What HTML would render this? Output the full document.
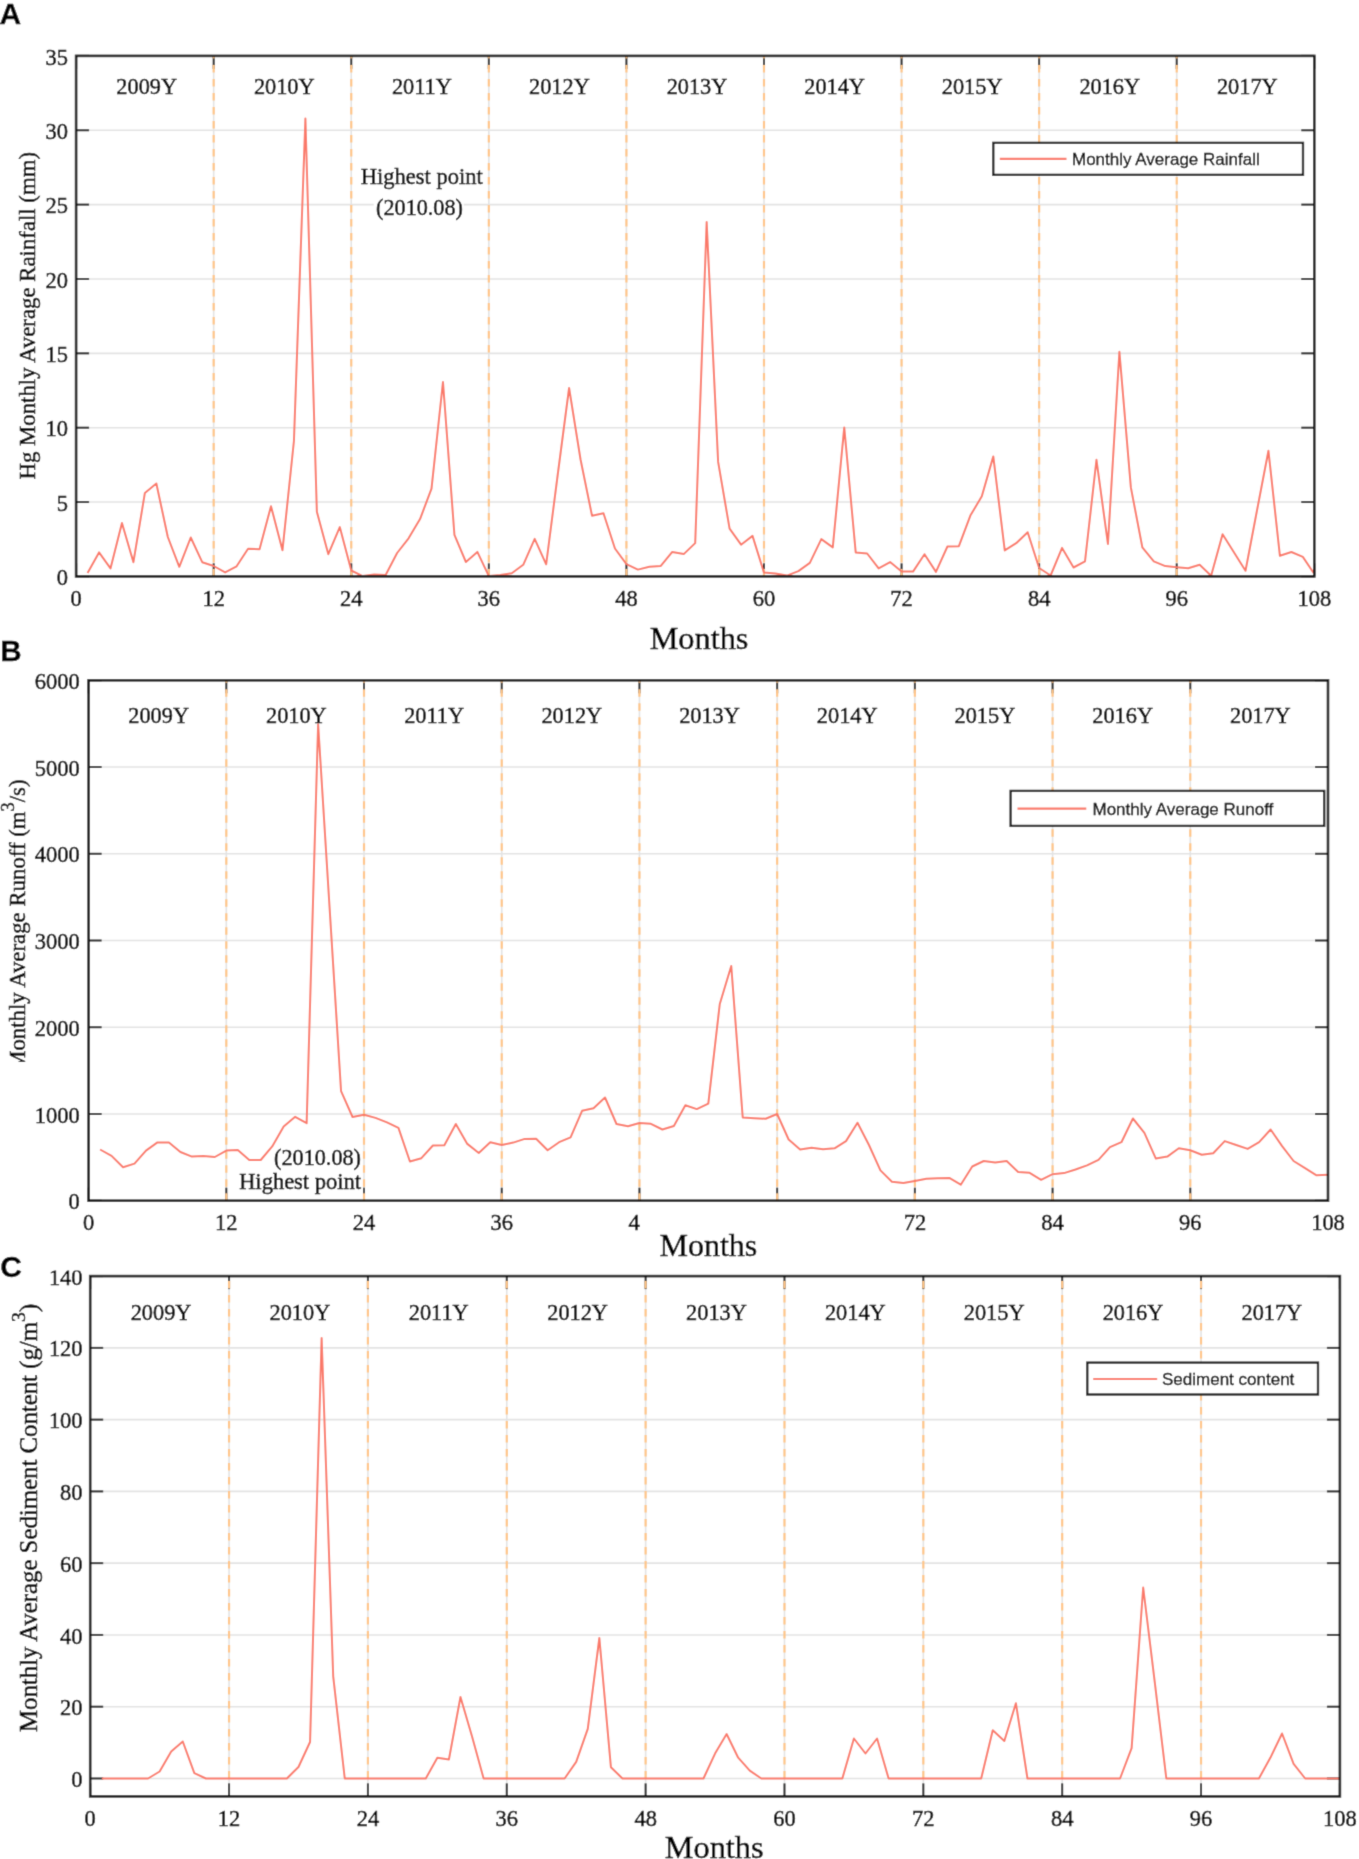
<!DOCTYPE html>
<html><head><meta charset="utf-8"><style>
html,body{margin:0;padding:0;background:#fff;}
body{width:1359px;height:1859px;overflow:hidden;}
svg{display:block;}

.s{font-family:"Liberation Serif",serif;fill:#000;stroke:#000;stroke-width:0.5px;}
.a{font-family:"Liberation Sans",sans-serif;fill:#000;stroke:#000;stroke-width:0.3px;}
</style></head><body>
<div id="wrap"><svg width="1359" height="1859" viewBox="0 0 1359 1859">
<defs><filter id="bl" x="0" y="0" width="100%" height="100%" filterUnits="userSpaceOnUse"><feConvolveMatrix order="3" kernelMatrix="0.03667 0.19150 0.03667 0.19150 1.00000 0.19150 0.03667 0.19150 0.03667" edgeMode="duplicate" preserveAlpha="true"/></filter></defs>
<g filter="url(#bl)">
<rect width="1359" height="1859" fill="#fff"/>
<line x1="76.1" y1="502.04" x2="1314.3" y2="502.04" stroke="#E3E3E3" stroke-width="1.6"/>
<line x1="76.1" y1="427.69" x2="1314.3" y2="427.69" stroke="#E3E3E3" stroke-width="1.6"/>
<line x1="76.1" y1="353.33" x2="1314.3" y2="353.33" stroke="#E3E3E3" stroke-width="1.6"/>
<line x1="76.1" y1="278.97" x2="1314.3" y2="278.97" stroke="#E3E3E3" stroke-width="1.6"/>
<line x1="76.1" y1="204.61" x2="1314.3" y2="204.61" stroke="#E3E3E3" stroke-width="1.6"/>
<line x1="76.1" y1="130.26" x2="1314.3" y2="130.26" stroke="#E3E3E3" stroke-width="1.6"/>
<line x1="213.68" y1="55.9" x2="213.68" y2="576.4" stroke="#E3E3E3" stroke-width="1.6"/>
<line x1="351.26" y1="55.9" x2="351.26" y2="576.4" stroke="#E3E3E3" stroke-width="1.6"/>
<line x1="488.83" y1="55.9" x2="488.83" y2="576.4" stroke="#E3E3E3" stroke-width="1.6"/>
<line x1="626.41" y1="55.9" x2="626.41" y2="576.4" stroke="#E3E3E3" stroke-width="1.6"/>
<line x1="763.99" y1="55.9" x2="763.99" y2="576.4" stroke="#E3E3E3" stroke-width="1.6"/>
<line x1="901.57" y1="55.9" x2="901.57" y2="576.4" stroke="#E3E3E3" stroke-width="1.6"/>
<line x1="1039.14" y1="55.9" x2="1039.14" y2="576.4" stroke="#E3E3E3" stroke-width="1.6"/>
<line x1="1176.72" y1="55.9" x2="1176.72" y2="576.4" stroke="#E3E3E3" stroke-width="1.6"/>
<line x1="76.1" y1="576.4" x2="89.1" y2="576.4" stroke="#1a1a1a" stroke-width="2"/>
<line x1="1314.3" y1="576.4" x2="1301.3" y2="576.4" stroke="#1a1a1a" stroke-width="2"/>
<line x1="76.1" y1="502.04" x2="89.1" y2="502.04" stroke="#1a1a1a" stroke-width="2"/>
<line x1="1314.3" y1="502.04" x2="1301.3" y2="502.04" stroke="#1a1a1a" stroke-width="2"/>
<line x1="76.1" y1="427.69" x2="89.1" y2="427.69" stroke="#1a1a1a" stroke-width="2"/>
<line x1="1314.3" y1="427.69" x2="1301.3" y2="427.69" stroke="#1a1a1a" stroke-width="2"/>
<line x1="76.1" y1="353.33" x2="89.1" y2="353.33" stroke="#1a1a1a" stroke-width="2"/>
<line x1="1314.3" y1="353.33" x2="1301.3" y2="353.33" stroke="#1a1a1a" stroke-width="2"/>
<line x1="76.1" y1="278.97" x2="89.1" y2="278.97" stroke="#1a1a1a" stroke-width="2"/>
<line x1="1314.3" y1="278.97" x2="1301.3" y2="278.97" stroke="#1a1a1a" stroke-width="2"/>
<line x1="76.1" y1="204.61" x2="89.1" y2="204.61" stroke="#1a1a1a" stroke-width="2"/>
<line x1="1314.3" y1="204.61" x2="1301.3" y2="204.61" stroke="#1a1a1a" stroke-width="2"/>
<line x1="76.1" y1="130.26" x2="89.1" y2="130.26" stroke="#1a1a1a" stroke-width="2"/>
<line x1="1314.3" y1="130.26" x2="1301.3" y2="130.26" stroke="#1a1a1a" stroke-width="2"/>
<line x1="76.1" y1="55.9" x2="89.1" y2="55.9" stroke="#1a1a1a" stroke-width="2"/>
<line x1="1314.3" y1="55.9" x2="1301.3" y2="55.9" stroke="#1a1a1a" stroke-width="2"/>
<line x1="76.1" y1="55.9" x2="76.1" y2="68.9" stroke="#1a1a1a" stroke-width="2"/>
<line x1="76.1" y1="576.4" x2="76.1" y2="563.4" stroke="#1a1a1a" stroke-width="2"/>
<line x1="213.68" y1="55.9" x2="213.68" y2="68.9" stroke="#1a1a1a" stroke-width="2"/>
<line x1="213.68" y1="576.4" x2="213.68" y2="563.4" stroke="#1a1a1a" stroke-width="2"/>
<line x1="351.26" y1="55.9" x2="351.26" y2="68.9" stroke="#1a1a1a" stroke-width="2"/>
<line x1="351.26" y1="576.4" x2="351.26" y2="563.4" stroke="#1a1a1a" stroke-width="2"/>
<line x1="488.83" y1="55.9" x2="488.83" y2="68.9" stroke="#1a1a1a" stroke-width="2"/>
<line x1="488.83" y1="576.4" x2="488.83" y2="563.4" stroke="#1a1a1a" stroke-width="2"/>
<line x1="626.41" y1="55.9" x2="626.41" y2="68.9" stroke="#1a1a1a" stroke-width="2"/>
<line x1="626.41" y1="576.4" x2="626.41" y2="563.4" stroke="#1a1a1a" stroke-width="2"/>
<line x1="763.99" y1="55.9" x2="763.99" y2="68.9" stroke="#1a1a1a" stroke-width="2"/>
<line x1="763.99" y1="576.4" x2="763.99" y2="563.4" stroke="#1a1a1a" stroke-width="2"/>
<line x1="901.57" y1="55.9" x2="901.57" y2="68.9" stroke="#1a1a1a" stroke-width="2"/>
<line x1="901.57" y1="576.4" x2="901.57" y2="563.4" stroke="#1a1a1a" stroke-width="2"/>
<line x1="1039.14" y1="55.9" x2="1039.14" y2="68.9" stroke="#1a1a1a" stroke-width="2"/>
<line x1="1039.14" y1="576.4" x2="1039.14" y2="563.4" stroke="#1a1a1a" stroke-width="2"/>
<line x1="1176.72" y1="55.9" x2="1176.72" y2="68.9" stroke="#1a1a1a" stroke-width="2"/>
<line x1="1176.72" y1="576.4" x2="1176.72" y2="563.4" stroke="#1a1a1a" stroke-width="2"/>
<line x1="1314.3" y1="55.9" x2="1314.3" y2="68.9" stroke="#1a1a1a" stroke-width="2"/>
<line x1="1314.3" y1="576.4" x2="1314.3" y2="563.4" stroke="#1a1a1a" stroke-width="2"/>
<line x1="213.68" y1="576.4" x2="213.68" y2="55.9" stroke="#FFC585" stroke-width="2.2" stroke-dasharray="7.4 6.6"/>
<line x1="351.26" y1="576.4" x2="351.26" y2="55.9" stroke="#FFC585" stroke-width="2.2" stroke-dasharray="7.4 6.6"/>
<line x1="488.83" y1="576.4" x2="488.83" y2="55.9" stroke="#FFC585" stroke-width="2.2" stroke-dasharray="7.4 6.6"/>
<line x1="626.41" y1="576.4" x2="626.41" y2="55.9" stroke="#FFC585" stroke-width="2.2" stroke-dasharray="7.4 6.6"/>
<line x1="763.99" y1="576.4" x2="763.99" y2="55.9" stroke="#FFC585" stroke-width="2.2" stroke-dasharray="7.4 6.6"/>
<line x1="901.57" y1="576.4" x2="901.57" y2="55.9" stroke="#FFC585" stroke-width="2.2" stroke-dasharray="7.4 6.6"/>
<line x1="1039.14" y1="576.4" x2="1039.14" y2="55.9" stroke="#FFC585" stroke-width="2.2" stroke-dasharray="7.4 6.6"/>
<line x1="1176.72" y1="576.4" x2="1176.72" y2="55.9" stroke="#FFC585" stroke-width="2.2" stroke-dasharray="7.4 6.6"/>
<polyline points="87.56,573 99.03,552.4 110.49,568.4 121.96,523 133.42,562.2 144.89,492.9 156.35,483.5 167.82,537 179.28,566.8 190.75,537.5 202.21,562.2 213.68,566 225.14,572.4 236.61,566.3 248.07,548.7 259.54,549.2 271,506.2 282.47,550.3 293.93,441 305.4,118.5 316.86,511.7 328.33,554.2 339.79,527.1 351.26,570.5 362.72,576.1 374.19,574.5 385.65,575 397.11,553 408.58,538.3 420.04,519.1 431.51,488.6 442.97,382 454.44,534.9 465.9,562 477.37,551.9 488.83,576.1 500.3,575 511.76,573.3 523.23,564.8 534.69,538.9 546.16,564.3 557.62,475.5 569.09,388 580.55,459.5 592.02,515.7 603.48,513.2 614.95,548.5 626.41,564.2 637.88,569.6 649.34,566.8 660.81,565.9 672.27,551.9 683.74,554.1 695.2,543.1 706.66,222 718.13,461.9 729.59,528.7 741.06,544.7 752.52,535.9 763.99,572.6 775.45,573.6 786.92,575.6 798.38,571.1 809.85,562.9 821.31,539.1 832.78,547.4 844.24,427.4 855.71,552.4 867.17,553.5 878.64,568.4 890.1,562.1 901.57,571.5 913.03,571.6 924.5,554.2 935.96,571.9 947.43,546.5 958.89,546.2 970.36,515.6 981.82,496.3 993.29,456.4 1004.75,550.4 1016.21,543.2 1027.68,532.2 1039.14,568 1050.61,575.5 1062.07,547.9 1073.54,567.5 1085,561.4 1096.47,459.8 1107.93,543.9 1119.4,351.8 1130.86,487.4 1142.33,547.3 1153.79,561.4 1165.26,566.1 1176.72,567.2 1188.19,568.2 1199.65,564.7 1211.12,575.7 1222.58,534.3 1234.05,552.5 1245.51,570.7 1256.98,510.5 1268.44,450.8 1279.91,555.8 1291.37,552 1302.84,556.9 1314.3,574" fill="none" stroke="#FA7868" stroke-width="2" stroke-linejoin="round"/>
<rect x="76.1" y="55.9" width="1238.2" height="520.5" fill="none" stroke="#1a1a1a" stroke-width="2.6"/>
<text transform="translate(67.9,585) scale(1.0,1.05)" text-anchor="end" class="s" font-size="22.5">0</text>
<text transform="translate(67.9,510.64) scale(1.0,1.05)" text-anchor="end" class="s" font-size="22.5">5</text>
<text transform="translate(67.9,436.29) scale(1.0,1.05)" text-anchor="end" class="s" font-size="22.5">10</text>
<text transform="translate(67.9,361.93) scale(1.0,1.05)" text-anchor="end" class="s" font-size="22.5">15</text>
<text transform="translate(67.9,287.57) scale(1.0,1.05)" text-anchor="end" class="s" font-size="22.5">20</text>
<text transform="translate(67.9,213.21) scale(1.0,1.05)" text-anchor="end" class="s" font-size="22.5">25</text>
<text transform="translate(67.9,138.86) scale(1.0,1.05)" text-anchor="end" class="s" font-size="22.5">30</text>
<text transform="translate(67.9,64.5) scale(1.0,1.05)" text-anchor="end" class="s" font-size="22.5">35</text>
<text transform="translate(76.1,605.7) scale(1.0,1.05)" text-anchor="middle" class="s" font-size="22.5">0</text>
<text transform="translate(213.68,605.7) scale(1.0,1.05)" text-anchor="middle" class="s" font-size="22.5">12</text>
<text transform="translate(351.26,605.7) scale(1.0,1.05)" text-anchor="middle" class="s" font-size="22.5">24</text>
<text transform="translate(488.83,605.7) scale(1.0,1.05)" text-anchor="middle" class="s" font-size="22.5">36</text>
<text transform="translate(626.41,605.7) scale(1.0,1.05)" text-anchor="middle" class="s" font-size="22.5">48</text>
<text transform="translate(763.99,605.7) scale(1.0,1.05)" text-anchor="middle" class="s" font-size="22.5">60</text>
<text transform="translate(901.57,605.7) scale(1.0,1.05)" text-anchor="middle" class="s" font-size="22.5">72</text>
<text transform="translate(1039.14,605.7) scale(1.0,1.05)" text-anchor="middle" class="s" font-size="22.5">84</text>
<text transform="translate(1176.72,605.7) scale(1.0,1.05)" text-anchor="middle" class="s" font-size="22.5">96</text>
<text transform="translate(1314.3,605.7) scale(1.0,1.05)" text-anchor="middle" class="s" font-size="22.5">108</text>
<text transform="translate(146.69,94)" text-anchor="middle" class="s" font-size="22.3">2009Y</text>
<text transform="translate(284.27,94)" text-anchor="middle" class="s" font-size="22.3">2010Y</text>
<text transform="translate(421.84,94)" text-anchor="middle" class="s" font-size="22.3">2011Y</text>
<text transform="translate(559.42,94)" text-anchor="middle" class="s" font-size="22.3">2012Y</text>
<text transform="translate(697,94)" text-anchor="middle" class="s" font-size="22.3">2013Y</text>
<text transform="translate(834.58,94)" text-anchor="middle" class="s" font-size="22.3">2014Y</text>
<text transform="translate(972.16,94)" text-anchor="middle" class="s" font-size="22.3">2015Y</text>
<text transform="translate(1109.73,94)" text-anchor="middle" class="s" font-size="22.3">2016Y</text>
<text transform="translate(1247.31,94)" text-anchor="middle" class="s" font-size="22.3">2017Y</text>
<line x1="88.6" y1="1113.97" x2="1328" y2="1113.97" stroke="#E3E3E3" stroke-width="1.6"/>
<line x1="88.6" y1="1027.23" x2="1328" y2="1027.23" stroke="#E3E3E3" stroke-width="1.6"/>
<line x1="88.6" y1="940.5" x2="1328" y2="940.5" stroke="#E3E3E3" stroke-width="1.6"/>
<line x1="88.6" y1="853.77" x2="1328" y2="853.77" stroke="#E3E3E3" stroke-width="1.6"/>
<line x1="88.6" y1="767.03" x2="1328" y2="767.03" stroke="#E3E3E3" stroke-width="1.6"/>
<line x1="226.31" y1="680.3" x2="226.31" y2="1200.7" stroke="#E3E3E3" stroke-width="1.6"/>
<line x1="364.02" y1="680.3" x2="364.02" y2="1200.7" stroke="#E3E3E3" stroke-width="1.6"/>
<line x1="501.73" y1="680.3" x2="501.73" y2="1200.7" stroke="#E3E3E3" stroke-width="1.6"/>
<line x1="639.44" y1="680.3" x2="639.44" y2="1200.7" stroke="#E3E3E3" stroke-width="1.6"/>
<line x1="777.16" y1="680.3" x2="777.16" y2="1200.7" stroke="#E3E3E3" stroke-width="1.6"/>
<line x1="914.87" y1="680.3" x2="914.87" y2="1200.7" stroke="#E3E3E3" stroke-width="1.6"/>
<line x1="1052.58" y1="680.3" x2="1052.58" y2="1200.7" stroke="#E3E3E3" stroke-width="1.6"/>
<line x1="1190.29" y1="680.3" x2="1190.29" y2="1200.7" stroke="#E3E3E3" stroke-width="1.6"/>
<line x1="88.6" y1="1200.7" x2="101.6" y2="1200.7" stroke="#1a1a1a" stroke-width="2"/>
<line x1="1328" y1="1200.7" x2="1315" y2="1200.7" stroke="#1a1a1a" stroke-width="2"/>
<line x1="88.6" y1="1113.97" x2="101.6" y2="1113.97" stroke="#1a1a1a" stroke-width="2"/>
<line x1="1328" y1="1113.97" x2="1315" y2="1113.97" stroke="#1a1a1a" stroke-width="2"/>
<line x1="88.6" y1="1027.23" x2="101.6" y2="1027.23" stroke="#1a1a1a" stroke-width="2"/>
<line x1="1328" y1="1027.23" x2="1315" y2="1027.23" stroke="#1a1a1a" stroke-width="2"/>
<line x1="88.6" y1="940.5" x2="101.6" y2="940.5" stroke="#1a1a1a" stroke-width="2"/>
<line x1="1328" y1="940.5" x2="1315" y2="940.5" stroke="#1a1a1a" stroke-width="2"/>
<line x1="88.6" y1="853.77" x2="101.6" y2="853.77" stroke="#1a1a1a" stroke-width="2"/>
<line x1="1328" y1="853.77" x2="1315" y2="853.77" stroke="#1a1a1a" stroke-width="2"/>
<line x1="88.6" y1="767.03" x2="101.6" y2="767.03" stroke="#1a1a1a" stroke-width="2"/>
<line x1="1328" y1="767.03" x2="1315" y2="767.03" stroke="#1a1a1a" stroke-width="2"/>
<line x1="88.6" y1="680.3" x2="101.6" y2="680.3" stroke="#1a1a1a" stroke-width="2"/>
<line x1="1328" y1="680.3" x2="1315" y2="680.3" stroke="#1a1a1a" stroke-width="2"/>
<line x1="88.6" y1="680.3" x2="88.6" y2="693.3" stroke="#1a1a1a" stroke-width="2"/>
<line x1="88.6" y1="1200.7" x2="88.6" y2="1187.7" stroke="#1a1a1a" stroke-width="2"/>
<line x1="226.31" y1="680.3" x2="226.31" y2="693.3" stroke="#1a1a1a" stroke-width="2"/>
<line x1="226.31" y1="1200.7" x2="226.31" y2="1187.7" stroke="#1a1a1a" stroke-width="2"/>
<line x1="364.02" y1="680.3" x2="364.02" y2="693.3" stroke="#1a1a1a" stroke-width="2"/>
<line x1="364.02" y1="1200.7" x2="364.02" y2="1187.7" stroke="#1a1a1a" stroke-width="2"/>
<line x1="501.73" y1="680.3" x2="501.73" y2="693.3" stroke="#1a1a1a" stroke-width="2"/>
<line x1="501.73" y1="1200.7" x2="501.73" y2="1187.7" stroke="#1a1a1a" stroke-width="2"/>
<line x1="639.44" y1="680.3" x2="639.44" y2="693.3" stroke="#1a1a1a" stroke-width="2"/>
<line x1="639.44" y1="1200.7" x2="639.44" y2="1187.7" stroke="#1a1a1a" stroke-width="2"/>
<line x1="777.16" y1="680.3" x2="777.16" y2="693.3" stroke="#1a1a1a" stroke-width="2"/>
<line x1="777.16" y1="1200.7" x2="777.16" y2="1187.7" stroke="#1a1a1a" stroke-width="2"/>
<line x1="914.87" y1="680.3" x2="914.87" y2="693.3" stroke="#1a1a1a" stroke-width="2"/>
<line x1="914.87" y1="1200.7" x2="914.87" y2="1187.7" stroke="#1a1a1a" stroke-width="2"/>
<line x1="1052.58" y1="680.3" x2="1052.58" y2="693.3" stroke="#1a1a1a" stroke-width="2"/>
<line x1="1052.58" y1="1200.7" x2="1052.58" y2="1187.7" stroke="#1a1a1a" stroke-width="2"/>
<line x1="1190.29" y1="680.3" x2="1190.29" y2="693.3" stroke="#1a1a1a" stroke-width="2"/>
<line x1="1190.29" y1="1200.7" x2="1190.29" y2="1187.7" stroke="#1a1a1a" stroke-width="2"/>
<line x1="1328" y1="680.3" x2="1328" y2="693.3" stroke="#1a1a1a" stroke-width="2"/>
<line x1="1328" y1="1200.7" x2="1328" y2="1187.7" stroke="#1a1a1a" stroke-width="2"/>
<line x1="226.31" y1="1200.7" x2="226.31" y2="680.3" stroke="#FFC585" stroke-width="2.2" stroke-dasharray="7.4 6.6"/>
<line x1="364.02" y1="1200.7" x2="364.02" y2="680.3" stroke="#FFC585" stroke-width="2.2" stroke-dasharray="7.4 6.6"/>
<line x1="501.73" y1="1200.7" x2="501.73" y2="680.3" stroke="#FFC585" stroke-width="2.2" stroke-dasharray="7.4 6.6"/>
<line x1="639.44" y1="1200.7" x2="639.44" y2="680.3" stroke="#FFC585" stroke-width="2.2" stroke-dasharray="7.4 6.6"/>
<line x1="777.16" y1="1200.7" x2="777.16" y2="680.3" stroke="#FFC585" stroke-width="2.2" stroke-dasharray="7.4 6.6"/>
<line x1="914.87" y1="1200.7" x2="914.87" y2="680.3" stroke="#FFC585" stroke-width="2.2" stroke-dasharray="7.4 6.6"/>
<line x1="1052.58" y1="1200.7" x2="1052.58" y2="680.3" stroke="#FFC585" stroke-width="2.2" stroke-dasharray="7.4 6.6"/>
<line x1="1190.29" y1="1200.7" x2="1190.29" y2="680.3" stroke="#FFC585" stroke-width="2.2" stroke-dasharray="7.4 6.6"/>
<polyline points="100.08,1149.5 111.55,1155.9 123.03,1167.2 134.5,1163.6 145.98,1150.6 157.46,1142.4 168.93,1142.4 180.41,1152 191.88,1156.6 203.36,1155.9 214.84,1157 226.31,1150.6 237.79,1150 249.26,1160 260.74,1160 272.21,1146.4 283.69,1126.5 295.17,1116.8 306.64,1123.2 318.12,724.2 329.59,907.7 341.07,1091.2 352.55,1117 364.02,1114.8 375.5,1117.9 386.97,1122.4 398.45,1127.9 409.93,1161.5 421.4,1158.2 432.88,1145.5 444.35,1145.3 455.83,1124 467.31,1143.9 478.78,1153 490.26,1142.2 501.73,1145 513.21,1142.6 524.69,1138.9 536.16,1138.7 547.64,1150.3 559.11,1142.2 570.59,1137.3 582.06,1110.8 593.54,1108.3 605.02,1097.5 616.49,1124 627.97,1126.2 639.44,1123 650.92,1123.8 662.4,1129.5 673.87,1126 685.35,1105.3 696.82,1109.1 708.3,1103.6 719.78,1004 731.25,966 742.73,1117.5 754.2,1118.2 765.68,1118.7 777.16,1114 788.63,1139.5 800.11,1149.4 811.58,1147.7 823.06,1149.2 834.54,1148.3 846.01,1141.1 857.49,1122.7 868.96,1145 880.44,1170.4 891.91,1181.7 903.39,1183.1 914.87,1180.9 926.34,1178.7 937.82,1178.3 949.29,1177.9 960.77,1184.7 972.25,1166.5 983.72,1161 995.2,1162.6 1006.67,1161 1018.15,1172 1029.63,1172.8 1041.1,1179.8 1052.58,1174.2 1064.05,1173.1 1075.53,1169.5 1087.01,1165.4 1098.48,1159.9 1109.96,1147.2 1121.43,1142.2 1132.91,1118.5 1144.39,1132.8 1155.86,1158.6 1167.34,1156.6 1178.81,1148.3 1190.29,1150.3 1201.76,1154.7 1213.24,1153.3 1224.72,1141.1 1236.19,1145 1247.67,1148.9 1259.14,1142.2 1270.62,1129.5 1282.1,1146.1 1293.57,1161 1305.05,1168.2 1316.52,1175.3 1328,1174.8" fill="none" stroke="#FA7868" stroke-width="2" stroke-linejoin="round"/>
<rect x="88.6" y="680.3" width="1239.4" height="520.4" fill="none" stroke="#1a1a1a" stroke-width="2.6"/>
<text transform="translate(79.7,1209.3) scale(1.0,1.05)" text-anchor="end" class="s" font-size="22.5">0</text>
<text transform="translate(79.7,1122.57) scale(1.0,1.05)" text-anchor="end" class="s" font-size="22.5">1000</text>
<text transform="translate(79.7,1035.83) scale(1.0,1.05)" text-anchor="end" class="s" font-size="22.5">2000</text>
<text transform="translate(79.7,949.1) scale(1.0,1.05)" text-anchor="end" class="s" font-size="22.5">3000</text>
<text transform="translate(79.7,862.37) scale(1.0,1.05)" text-anchor="end" class="s" font-size="22.5">4000</text>
<text transform="translate(79.7,775.63) scale(1.0,1.05)" text-anchor="end" class="s" font-size="22.5">5000</text>
<text transform="translate(79.7,688.9) scale(1.0,1.05)" text-anchor="end" class="s" font-size="22.5">6000</text>
<text transform="translate(88.6,1229.8) scale(1.0,1.05)" text-anchor="middle" class="s" font-size="22.5">0</text>
<text transform="translate(226.31,1229.8) scale(1.0,1.05)" text-anchor="middle" class="s" font-size="22.5">12</text>
<text transform="translate(364.02,1229.8) scale(1.0,1.05)" text-anchor="middle" class="s" font-size="22.5">24</text>
<text transform="translate(501.73,1229.8) scale(1.0,1.05)" text-anchor="middle" class="s" font-size="22.5">36</text>
<text transform="translate(914.87,1229.8) scale(1.0,1.05)" text-anchor="middle" class="s" font-size="22.5">72</text>
<text transform="translate(1052.58,1229.8) scale(1.0,1.05)" text-anchor="middle" class="s" font-size="22.5">84</text>
<text transform="translate(1190.29,1229.8) scale(1.0,1.05)" text-anchor="middle" class="s" font-size="22.5">96</text>
<text transform="translate(1328,1229.8) scale(1.0,1.05)" text-anchor="middle" class="s" font-size="22.5">108</text>
<text transform="translate(158.66,722.8)" text-anchor="middle" class="s" font-size="22.3">2009Y</text>
<text transform="translate(296.37,722.8)" text-anchor="middle" class="s" font-size="22.3">2010Y</text>
<text transform="translate(434.08,722.8)" text-anchor="middle" class="s" font-size="22.3">2011Y</text>
<text transform="translate(571.79,722.8)" text-anchor="middle" class="s" font-size="22.3">2012Y</text>
<text transform="translate(709.5,722.8)" text-anchor="middle" class="s" font-size="22.3">2013Y</text>
<text transform="translate(847.21,722.8)" text-anchor="middle" class="s" font-size="22.3">2014Y</text>
<text transform="translate(984.92,722.8)" text-anchor="middle" class="s" font-size="22.3">2015Y</text>
<text transform="translate(1122.63,722.8)" text-anchor="middle" class="s" font-size="22.3">2016Y</text>
<text transform="translate(1260.34,722.8)" text-anchor="middle" class="s" font-size="22.3">2017Y</text>
<line x1="90.2" y1="1778.46" x2="1339.9" y2="1778.46" stroke="#E3E3E3" stroke-width="1.6"/>
<line x1="90.2" y1="1706.69" x2="1339.9" y2="1706.69" stroke="#E3E3E3" stroke-width="1.6"/>
<line x1="90.2" y1="1634.93" x2="1339.9" y2="1634.93" stroke="#E3E3E3" stroke-width="1.6"/>
<line x1="90.2" y1="1563.16" x2="1339.9" y2="1563.16" stroke="#E3E3E3" stroke-width="1.6"/>
<line x1="90.2" y1="1491.4" x2="1339.9" y2="1491.4" stroke="#E3E3E3" stroke-width="1.6"/>
<line x1="90.2" y1="1419.63" x2="1339.9" y2="1419.63" stroke="#E3E3E3" stroke-width="1.6"/>
<line x1="90.2" y1="1347.87" x2="1339.9" y2="1347.87" stroke="#E3E3E3" stroke-width="1.6"/>
<line x1="229.06" y1="1276.1" x2="229.06" y2="1796.4" stroke="#E3E3E3" stroke-width="1.6"/>
<line x1="367.91" y1="1276.1" x2="367.91" y2="1796.4" stroke="#E3E3E3" stroke-width="1.6"/>
<line x1="506.77" y1="1276.1" x2="506.77" y2="1796.4" stroke="#E3E3E3" stroke-width="1.6"/>
<line x1="645.62" y1="1276.1" x2="645.62" y2="1796.4" stroke="#E3E3E3" stroke-width="1.6"/>
<line x1="784.48" y1="1276.1" x2="784.48" y2="1796.4" stroke="#E3E3E3" stroke-width="1.6"/>
<line x1="923.33" y1="1276.1" x2="923.33" y2="1796.4" stroke="#E3E3E3" stroke-width="1.6"/>
<line x1="1062.19" y1="1276.1" x2="1062.19" y2="1796.4" stroke="#E3E3E3" stroke-width="1.6"/>
<line x1="1201.04" y1="1276.1" x2="1201.04" y2="1796.4" stroke="#E3E3E3" stroke-width="1.6"/>
<line x1="90.2" y1="1778.46" x2="103.2" y2="1778.46" stroke="#1a1a1a" stroke-width="2"/>
<line x1="1339.9" y1="1778.46" x2="1326.9" y2="1778.46" stroke="#1a1a1a" stroke-width="2"/>
<line x1="90.2" y1="1706.69" x2="103.2" y2="1706.69" stroke="#1a1a1a" stroke-width="2"/>
<line x1="1339.9" y1="1706.69" x2="1326.9" y2="1706.69" stroke="#1a1a1a" stroke-width="2"/>
<line x1="90.2" y1="1634.93" x2="103.2" y2="1634.93" stroke="#1a1a1a" stroke-width="2"/>
<line x1="1339.9" y1="1634.93" x2="1326.9" y2="1634.93" stroke="#1a1a1a" stroke-width="2"/>
<line x1="90.2" y1="1563.16" x2="103.2" y2="1563.16" stroke="#1a1a1a" stroke-width="2"/>
<line x1="1339.9" y1="1563.16" x2="1326.9" y2="1563.16" stroke="#1a1a1a" stroke-width="2"/>
<line x1="90.2" y1="1491.4" x2="103.2" y2="1491.4" stroke="#1a1a1a" stroke-width="2"/>
<line x1="1339.9" y1="1491.4" x2="1326.9" y2="1491.4" stroke="#1a1a1a" stroke-width="2"/>
<line x1="90.2" y1="1419.63" x2="103.2" y2="1419.63" stroke="#1a1a1a" stroke-width="2"/>
<line x1="1339.9" y1="1419.63" x2="1326.9" y2="1419.63" stroke="#1a1a1a" stroke-width="2"/>
<line x1="90.2" y1="1347.87" x2="103.2" y2="1347.87" stroke="#1a1a1a" stroke-width="2"/>
<line x1="1339.9" y1="1347.87" x2="1326.9" y2="1347.87" stroke="#1a1a1a" stroke-width="2"/>
<line x1="90.2" y1="1276.1" x2="103.2" y2="1276.1" stroke="#1a1a1a" stroke-width="2"/>
<line x1="1339.9" y1="1276.1" x2="1326.9" y2="1276.1" stroke="#1a1a1a" stroke-width="2"/>
<line x1="90.2" y1="1276.1" x2="90.2" y2="1289.1" stroke="#1a1a1a" stroke-width="2"/>
<line x1="90.2" y1="1796.4" x2="90.2" y2="1783.4" stroke="#1a1a1a" stroke-width="2"/>
<line x1="229.06" y1="1276.1" x2="229.06" y2="1289.1" stroke="#1a1a1a" stroke-width="2"/>
<line x1="229.06" y1="1796.4" x2="229.06" y2="1783.4" stroke="#1a1a1a" stroke-width="2"/>
<line x1="367.91" y1="1276.1" x2="367.91" y2="1289.1" stroke="#1a1a1a" stroke-width="2"/>
<line x1="367.91" y1="1796.4" x2="367.91" y2="1783.4" stroke="#1a1a1a" stroke-width="2"/>
<line x1="506.77" y1="1276.1" x2="506.77" y2="1289.1" stroke="#1a1a1a" stroke-width="2"/>
<line x1="506.77" y1="1796.4" x2="506.77" y2="1783.4" stroke="#1a1a1a" stroke-width="2"/>
<line x1="645.62" y1="1276.1" x2="645.62" y2="1289.1" stroke="#1a1a1a" stroke-width="2"/>
<line x1="645.62" y1="1796.4" x2="645.62" y2="1783.4" stroke="#1a1a1a" stroke-width="2"/>
<line x1="784.48" y1="1276.1" x2="784.48" y2="1289.1" stroke="#1a1a1a" stroke-width="2"/>
<line x1="784.48" y1="1796.4" x2="784.48" y2="1783.4" stroke="#1a1a1a" stroke-width="2"/>
<line x1="923.33" y1="1276.1" x2="923.33" y2="1289.1" stroke="#1a1a1a" stroke-width="2"/>
<line x1="923.33" y1="1796.4" x2="923.33" y2="1783.4" stroke="#1a1a1a" stroke-width="2"/>
<line x1="1062.19" y1="1276.1" x2="1062.19" y2="1289.1" stroke="#1a1a1a" stroke-width="2"/>
<line x1="1062.19" y1="1796.4" x2="1062.19" y2="1783.4" stroke="#1a1a1a" stroke-width="2"/>
<line x1="1201.04" y1="1276.1" x2="1201.04" y2="1289.1" stroke="#1a1a1a" stroke-width="2"/>
<line x1="1201.04" y1="1796.4" x2="1201.04" y2="1783.4" stroke="#1a1a1a" stroke-width="2"/>
<line x1="1339.9" y1="1276.1" x2="1339.9" y2="1289.1" stroke="#1a1a1a" stroke-width="2"/>
<line x1="1339.9" y1="1796.4" x2="1339.9" y2="1783.4" stroke="#1a1a1a" stroke-width="2"/>
<line x1="229.06" y1="1778.46" x2="229.06" y2="1276.1" stroke="#FFC585" stroke-width="2.2" stroke-dasharray="7.4 6.6"/>
<line x1="367.91" y1="1778.46" x2="367.91" y2="1276.1" stroke="#FFC585" stroke-width="2.2" stroke-dasharray="7.4 6.6"/>
<line x1="506.77" y1="1778.46" x2="506.77" y2="1276.1" stroke="#FFC585" stroke-width="2.2" stroke-dasharray="7.4 6.6"/>
<line x1="645.62" y1="1778.46" x2="645.62" y2="1276.1" stroke="#FFC585" stroke-width="2.2" stroke-dasharray="7.4 6.6"/>
<line x1="784.48" y1="1778.46" x2="784.48" y2="1276.1" stroke="#FFC585" stroke-width="2.2" stroke-dasharray="7.4 6.6"/>
<line x1="923.33" y1="1778.46" x2="923.33" y2="1276.1" stroke="#FFC585" stroke-width="2.2" stroke-dasharray="7.4 6.6"/>
<line x1="1062.19" y1="1778.46" x2="1062.19" y2="1276.1" stroke="#FFC585" stroke-width="2.2" stroke-dasharray="7.4 6.6"/>
<line x1="1201.04" y1="1778.46" x2="1201.04" y2="1276.1" stroke="#FFC585" stroke-width="2.2" stroke-dasharray="7.4 6.6"/>
<polyline points="101.77,1778.5 113.34,1778.5 124.91,1778.5 136.49,1778.5 148.06,1778.5 159.63,1771.5 171.2,1751.6 182.77,1741.5 194.34,1773.2 205.91,1778.5 217.48,1778.5 229.06,1778.5 240.63,1778.5 252.2,1778.5 263.77,1778.5 275.34,1778.5 286.91,1778.5 298.48,1767 310.05,1742 321.63,1338 333.2,1676.3 344.77,1778.5 356.34,1778.5 367.91,1778.5 379.48,1778.5 391.05,1778.5 402.62,1778.5 414.2,1778.5 425.77,1778.5 437.34,1757.7 448.91,1759.5 460.48,1697 472.05,1736.5 483.62,1778.5 495.2,1778.5 506.77,1778.5 518.34,1778.5 529.91,1778.5 541.48,1778.5 553.05,1778.5 564.62,1778.5 576.19,1761.9 587.77,1728.9 599.34,1638 610.91,1767.2 622.48,1778.5 634.05,1778.5 645.62,1778.5 657.19,1778.5 668.76,1778.5 680.34,1778.5 691.91,1778.5 703.48,1778.5 715.05,1753.6 726.62,1734 738.19,1757.7 749.76,1770.7 761.34,1778.5 772.91,1778.5 784.48,1778.5 796.05,1778.5 807.62,1778.5 819.19,1778.5 830.76,1778.5 842.33,1778.5 853.91,1738.5 865.48,1753.5 877.05,1738.5 888.62,1778.5 900.19,1778.5 911.76,1778.5 923.33,1778.5 934.9,1778.5 946.48,1778.5 958.05,1778.5 969.62,1778.5 981.19,1778.5 992.76,1730.2 1004.33,1741 1015.9,1703.2 1027.47,1778.5 1039.05,1778.5 1050.62,1778.5 1062.19,1778.5 1073.76,1778.5 1085.33,1778.5 1096.9,1778.5 1108.47,1778.5 1120.05,1778.5 1131.62,1748.1 1143.19,1587.5 1154.76,1682.2 1166.33,1778.5 1177.9,1778.5 1189.47,1778.5 1201.04,1778.5 1212.62,1778.5 1224.19,1778.5 1235.76,1778.5 1247.33,1778.5 1258.9,1778.5 1270.47,1757.6 1282.04,1733.5 1293.61,1763.8 1305.19,1778.5 1316.76,1778.5 1328.33,1778.5 1339.9,1778.5" fill="none" stroke="#FA7868" stroke-width="2" stroke-linejoin="round"/>
<rect x="90.2" y="1276.1" width="1249.7" height="520.3" fill="none" stroke="#1a1a1a" stroke-width="2.6"/>
<text transform="translate(82.6,1787.06) scale(1.0,1.05)" text-anchor="end" class="s" font-size="22.5">0</text>
<text transform="translate(82.6,1715.29) scale(1.0,1.05)" text-anchor="end" class="s" font-size="22.5">20</text>
<text transform="translate(82.6,1643.53) scale(1.0,1.05)" text-anchor="end" class="s" font-size="22.5">40</text>
<text transform="translate(82.6,1571.76) scale(1.0,1.05)" text-anchor="end" class="s" font-size="22.5">60</text>
<text transform="translate(82.6,1500) scale(1.0,1.05)" text-anchor="end" class="s" font-size="22.5">80</text>
<text transform="translate(82.6,1428.23) scale(1.0,1.05)" text-anchor="end" class="s" font-size="22.5">100</text>
<text transform="translate(82.6,1356.47) scale(1.0,1.05)" text-anchor="end" class="s" font-size="22.5">120</text>
<text transform="translate(82.6,1284.7) scale(1.0,1.05)" text-anchor="end" class="s" font-size="22.5">140</text>
<text transform="translate(90.2,1825.5) scale(1.0,1.05)" text-anchor="middle" class="s" font-size="22.5">0</text>
<text transform="translate(229.06,1825.5) scale(1.0,1.05)" text-anchor="middle" class="s" font-size="22.5">12</text>
<text transform="translate(367.91,1825.5) scale(1.0,1.05)" text-anchor="middle" class="s" font-size="22.5">24</text>
<text transform="translate(506.77,1825.5) scale(1.0,1.05)" text-anchor="middle" class="s" font-size="22.5">36</text>
<text transform="translate(645.62,1825.5) scale(1.0,1.05)" text-anchor="middle" class="s" font-size="22.5">48</text>
<text transform="translate(784.48,1825.5) scale(1.0,1.05)" text-anchor="middle" class="s" font-size="22.5">60</text>
<text transform="translate(923.33,1825.5) scale(1.0,1.05)" text-anchor="middle" class="s" font-size="22.5">72</text>
<text transform="translate(1062.19,1825.5) scale(1.0,1.05)" text-anchor="middle" class="s" font-size="22.5">84</text>
<text transform="translate(1201.04,1825.5) scale(1.0,1.05)" text-anchor="middle" class="s" font-size="22.5">96</text>
<text transform="translate(1339.9,1825.5) scale(1.0,1.05)" text-anchor="middle" class="s" font-size="22.5">108</text>
<text transform="translate(161.03,1320.2)" text-anchor="middle" class="s" font-size="22.3">2009Y</text>
<text transform="translate(299.88,1320.2)" text-anchor="middle" class="s" font-size="22.3">2010Y</text>
<text transform="translate(438.74,1320.2)" text-anchor="middle" class="s" font-size="22.3">2011Y</text>
<text transform="translate(577.59,1320.2)" text-anchor="middle" class="s" font-size="22.3">2012Y</text>
<text transform="translate(716.45,1320.2)" text-anchor="middle" class="s" font-size="22.3">2013Y</text>
<text transform="translate(855.31,1320.2)" text-anchor="middle" class="s" font-size="22.3">2014Y</text>
<text transform="translate(994.16,1320.2)" text-anchor="middle" class="s" font-size="22.3">2015Y</text>
<text transform="translate(1133.02,1320.2)" text-anchor="middle" class="s" font-size="22.3">2016Y</text>
<text transform="translate(1271.87,1320.2)" text-anchor="middle" class="s" font-size="22.3">2017Y</text>
<text transform="translate(-0.6,24.1)" class="a" font-size="30" font-weight="bold">A</text>
<text transform="translate(0.3,661.2)" class="a" font-size="29.6" font-weight="bold">B</text>
<text transform="translate(0.2,1276.6)" class="a" font-size="30" font-weight="bold">C</text>
<text transform="translate(699,649)" text-anchor="middle" class="s" font-size="32.3">Months</text>
<text transform="translate(708.4,1256)" text-anchor="middle" class="s" font-size="32">Months</text>
<text transform="translate(714.2,1857.5)" text-anchor="middle" class="s" font-size="32.3">Months</text>
<text transform="translate(35,315.75) rotate(-90)" text-anchor="middle" class="s" font-size="22.8">Hg Monthly Average Rainfall (mm)</text>
<clipPath id="cb"><rect x="0" y="700" width="60" height="362"/></clipPath>
<g clip-path="url(#cb)"><text transform="translate(24.5,779.5) rotate(-90)" text-anchor="end" class="s" font-size="22.8">Monthly Average Runoff (m<tspan dy="-10.3" font-size="18.2">3</tspan><tspan dy="10.3">/s)</tspan></text></g>
<text transform="translate(36.8,1517.9) rotate(-90)" text-anchor="middle" class="s" font-size="24.8">Monthly Average Sediment Content (g/m<tspan dy="-11.6" font-size="19.8">3</tspan><tspan dy="11.6">)</tspan></text>
<text transform="translate(628.4,1229.8)" class="s" font-size="22.5">4</text>
<rect x="40" y="1258" width="45" height="12.5" fill="#fff"/>
<rect x="993.3" y="142.85" width="309.7" height="32" fill="#fff" stroke="#1a1a1a" stroke-width="2.3"/>
<line x1="999.8" y1="158.8" x2="1066.5" y2="158.8" stroke="#FA7868" stroke-width="2.2"/>
<text transform="translate(1072,165.2)" class="a" font-size="17">Monthly Average Rainfall</text>
<rect x="1010.6" y="790.9" width="313.6" height="35" fill="#fff" stroke="#1a1a1a" stroke-width="2.3"/>
<line x1="1017.5" y1="808.7" x2="1086.3" y2="808.7" stroke="#FA7868" stroke-width="2.2"/>
<text transform="translate(1092.5,815)" class="a" font-size="17">Monthly Average Runoff</text>
<rect x="1087.3" y="1362.6" width="230.7" height="31.9" fill="#fff" stroke="#1a1a1a" stroke-width="2.3"/>
<line x1="1093.2" y1="1379" x2="1157.2" y2="1379" stroke="#FA7868" stroke-width="2.2"/>
<text transform="translate(1162,1385.4)" class="a" font-size="17">Sediment content</text>
<rect x="373.7" y="194" width="90" height="24" fill="#fff"/>
<text transform="translate(421.8,183.7)" text-anchor="middle" class="s" font-size="22.5">Highest point</text>
<text transform="translate(419.5,214.7)" text-anchor="middle" class="s" font-size="22.2">(2010.08)</text>
<text transform="translate(361,1165)" text-anchor="end" class="s" font-size="22.2">(2010.08)</text>
<text transform="translate(361,1188.5)" text-anchor="end" class="s" font-size="22.5">Highest point</text>
</g>
</svg></div>
</body></html>
